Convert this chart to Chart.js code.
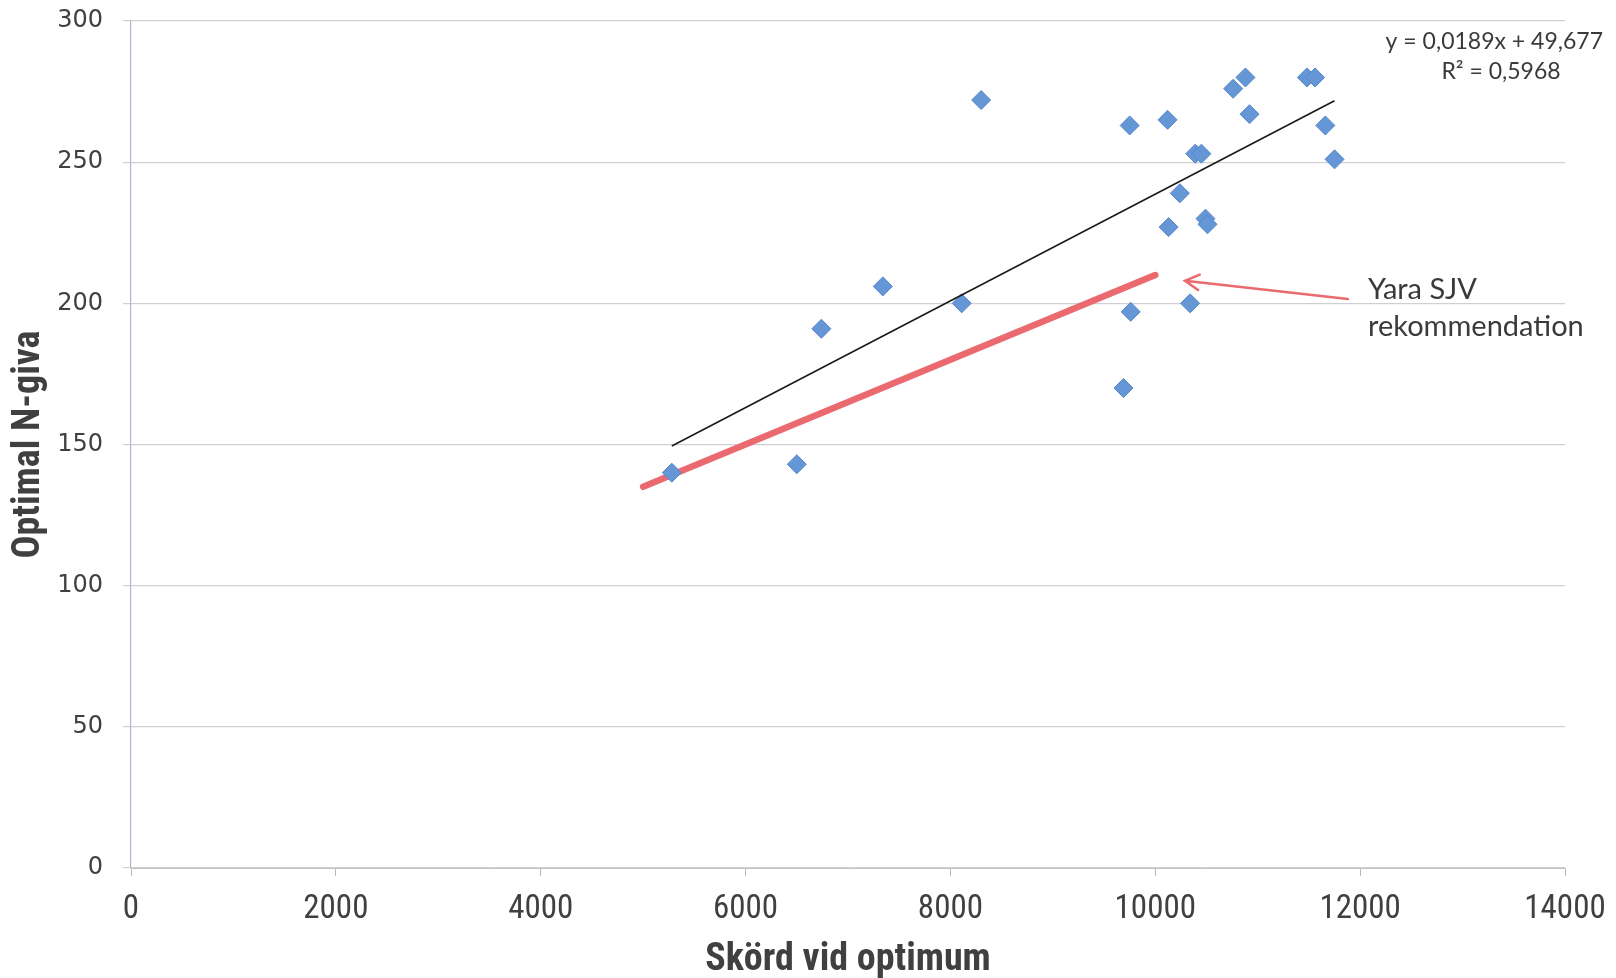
<!DOCTYPE html>
<html>
<head>
<meta charset="utf-8">
<script src="https://cdn.jsdelivr.net/npm/chart.js@4.4.1/dist/chart.umd.min.js"></script>
<style>
  html, body { margin: 0; padding: 0; background: #fff; }
  #wrap { width: 1616px; height: 978px; }
</style>
</head>
<body>
<div id="wrap"><canvas id="chart" width="1616" height="978"></canvas></div>
<script>
// Skörd vid optimum (x) and optimal N-giva (y)
const skord = [5280, 6500, 6740, 7340, 8110, 8300, 9690, 9760, 9750, 10120, 10130, 10240,
  10340, 10390, 10450, 10490, 10510, 10760, 10880, 10920, 11480, 11560, 11660, 11750]
const nGiva = [140, 143, 191, 206, 200, 272, 170, 197, 263, 265, 227, 239,
  200, 253, 253, 230, 228, 276, 280, 267, 280, 280, 263, 251]

// linear trendline shown in the chart: y = 0,0189x + 49,677
const trendSlope = 0.0189
const trendIntercept = 49.677

// Yara SJV recommendation line (hand drawn red line)
const yaraX = [5000, 10000]
const yaraY = [135, 210]

// arrow from the label to the red line, in data units
const arrowFrom = [11880, 201.5]
const arrowTo = [10290, 208]

const xTicks = [0, 2000, 4000, 6000, 8000, 10000, 12000, 14000]
const yTicks = [0, 50, 100, 150, 200, 250, 300]

const NARROW = "'Liberation Sans Narrow', 'Roboto Condensed', 'Liberation Sans', sans-serif"
const RED = "#ea6a6f"

const toPoints = (xs, ys) => xs.map((x, i) => ({ x: x, y: ys[i] }))

const trendX = [Math.min(...skord), Math.max(...skord)]
const trendY = trendX.map((x) => trendSlope * x + trendIntercept)

// white background + text annotations + arrow
const annotations = {
  id: "annotations",
  beforeDraw(chart) {
    const ctx = chart.ctx
    ctx.save()
    ctx.fillStyle = "#fff"
    ctx.fillRect(0, 0, chart.width, chart.height)
    ctx.restore()
  },
  afterDraw(chart) {
    const ctx = chart.ctx
    const xs = chart.scales.x
    const ys = chart.scales.y

    // arrow
    const x1 = xs.getPixelForValue(arrowFrom[0])
    const y1 = ys.getPixelForValue(arrowFrom[1])
    const x2 = xs.getPixelForValue(arrowTo[0])
    const y2 = ys.getPixelForValue(arrowTo[1])
    const ang = Math.atan2(y1 - y2, x1 - x2)
    ctx.save()
    ctx.strokeStyle = RED
    ctx.lineWidth = 2.5
    ctx.lineCap = "round"
    ctx.beginPath()
    ctx.moveTo(x1, y1)
    ctx.lineTo(x2, y2)
    ctx.moveTo(x2 + 16 * Math.cos(ang - 0.5), y2 + 16 * Math.sin(ang - 0.5))
    ctx.lineTo(x2, y2)
    ctx.lineTo(x2 + 16 * Math.cos(ang + 0.5), y2 + 16 * Math.sin(ang + 0.5))
    ctx.stroke()

    // label
    ctx.fillStyle = "#3a3a3a"
    ctx.font = "29px Lato"
    ctx.textAlign = "left"
    ctx.textBaseline = "middle"
    ctx.fillText("Yara SJV", 1368, 290)
    ctx.fillText("rekommendation", 1368, 327)

    // trendline equation
    ctx.font = "23px Lato"
    ctx.textAlign = "right"
    ctx.fillText("y = 0,0189x + 49,677", 1603, 42)
    ctx.textAlign = "center"
    ctx.fillText("R² = 0,5968", 1501, 72)
    ctx.restore()
  }
}

new Chart(document.getElementById("chart"), {
  type: "scatter",
  data: {
    datasets: [
      {
        label: "Trend",
        type: "line",
        data: toPoints(trendX, trendY),
        borderColor: "#1a1a1a",
        borderWidth: 1.6,
        pointRadius: 0,
        fill: false,
        order: 0
      },
      {
        label: "Optimal N-giva",
        data: toPoints(skord, nGiva),
        pointStyle: "rectRot",
        pointRadius: 9.5,
        backgroundColor: "#6597d6",
        borderColor: "#5687c8",
        borderWidth: 1,
        order: 1
      },
      {
        label: "Yara SJV",
        type: "line",
        data: toPoints(yaraX, yaraY),
        borderColor: RED,
        borderWidth: 6.5,
        borderCapStyle: "round",
        pointRadius: 0,
        fill: false,
        order: 2
      }
    ]
  },
  options: {
    responsive: false,
    animation: false,
    devicePixelRatio: 1,
    layout: { padding: { left: 0, right: 51, top: 21, bottom: 0 } },
    plugins: {
      legend: { display: false },
      tooltip: { enabled: false }
    },
    scales: {
      x: {
        type: "linear",
        min: 0,
        max: 14000,
        afterBuildTicks(scale) {
          scale.ticks = xTicks.map((v) => ({ value: v }))
        },
        afterFit(scale) {
          scale.height = 110
          scale.paddingRight = 0
        },
        grid: {
          drawOnChartArea: false,
          drawTicks: true,
          tickLength: 8,
          color: "#b8b8b8"
        },
        border: { color: "#c4c4c4", width: 1 },
        ticks: {
          padding: 14,
          color: "#404040",
          font: { family: NARROW, size: 33 },
          callback: (v) => String(v)
        },
        title: {
          display: true,
          text: "Skörd vid optimum",
          color: "#404040",
          font: { family: NARROW, size: 38, weight: "bold", lineHeight: 1 },
          padding: { top: 0, bottom: -1 }
        }
      },
      y: {
        type: "linear",
        min: 0,
        max: 300,
        afterBuildTicks(scale) {
          scale.ticks = yTicks.map((v) => ({ value: v }))
        },
        afterFit(scale) {
          scale.width = 131
          scale.paddingTop = 0
        },
        grid: {
          drawTicks: true,
          tickLength: 8,
          color: "#d2cfd3",
          lineWidth: 1.2
        },
        border: { color: "#a9b8cc", width: 1.2 },
        ticks: {
          padding: 20,
          color: "#404040",
          font: { family: "'DejaVu Sans'", size: 24 },
          callback: (v) => String(v)
        },
        title: {
          display: true,
          text: "Optimal N-giva",
          color: "#404040",
          font: { family: NARROW, size: 38, weight: "bold" },
          padding: { top: 7, bottom: 0 }
        }
      }
    }
  },
  plugins: [annotations]
})
</script>
</body>
</html>
